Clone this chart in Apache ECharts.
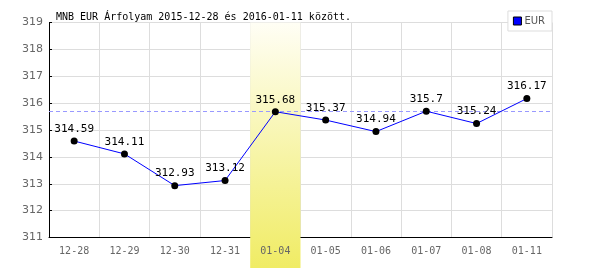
<!DOCTYPE html>
<html><head><meta charset="utf-8">
<script src="https://cdn.jsdelivr.net/npm/echarts@6/dist/echarts.min.js"></script>
<style>html,body{margin:0;padding:0;background:#fff}#c{width:600px;height:270px}</style>
</head><body><div id="c"></div>
<script>
const categories = ['12-28','12-29','12-30','12-31','01-04','01-05','01-06','01-07','01-08','01-11'];
const eurValues = [314.59,314.11,312.93,313.12,315.68,315.37,314.94,315.70,315.24,316.17];
const highlight = [null,null,null,null,1,null,null,null,null,null];
const refLine = 315.68;
const titleText = 'MNB EUR Árfolyam 2015-12-28 és 2016-01-11 között.';

const chart = echarts.init(document.getElementById('c'), null, {renderer:'canvas'});
const mono = 'DejaVu Sans Mono';
chart.setOption({
  animation:false,
  backgroundColor:'#fff',
  title:{text:titleText,left:51,top:7,textStyle:{fontFamily:mono,fontSize:10,fontWeight:'normal',color:'#000'}},
  legend:{data:[{name:'EUR',icon:'rect',itemStyle:{color:'#0000ff',borderColor:'#000',borderWidth:1}}],right:48,top:11,itemWidth:8,itemHeight:8,itemGap:4,
    padding:[5,7,5,5],borderColor:'#ddd',borderWidth:1,backgroundColor:'#fff',
    textStyle:{fontFamily:'DejaVu Sans',fontSize:10,color:'#555',padding:[0,0,0,-2]}},
  grid:[{left:49,right:48,top:22.5,bottom:32.5},{left:49,right:48,top:22.5,bottom:2}],
  xAxis:[{type:'category',data:categories,gridIndex:0,boundaryGap:true,
    axisLine:{lineStyle:{color:'#000',width:1}},axisTick:{show:false},
    axisLabel:{fontFamily:mono,fontSize:10,color:'#666',margin:9},
    splitLine:{show:true,lineStyle:{color:'#ddd',width:1}}},
    {type:'category',data:categories,gridIndex:1,show:false,boundaryGap:true}],
  yAxis:[{type:'value',min:311,max:319,interval:1,gridIndex:0,
    axisLine:{show:true,lineStyle:{color:'#000',width:1}},axisTick:{show:true,inside:true,length:3,lineStyle:{color:'#000'}},
    axisLabel:{fontFamily:'DejaVu Sans',fontSize:11,color:'#666',margin:6},
    splitLine:{show:true,lineStyle:{color:'#ddd',width:1}}},
    {type:'value',min:0,max:1,gridIndex:1,show:false}],
  series:[
    {type:'bar',xAxisIndex:1,yAxisIndex:1,data:highlight,barWidth:'100%',silent:true,z:0,
     itemStyle:{color:new echarts.graphic.LinearGradient(0,0,0,1,[{offset:0,color:'#fffef5'},{offset:1,color:'#f0ec64'}])}},
    {name:'EUR',type:'line',data:eurValues,z:5,
     lineStyle:{color:'#0000ff',width:1},itemStyle:{color:'#000'},
     symbol:'circle',symbolSize:7,
     label:{show:true,position:'top',distance:3,fontFamily:mono,fontSize:11,color:'#000',formatter:p=>p.value.toFixed(2).replace(/0$/,'')},
     markLine:{silent:true,symbol:'none',label:{show:false},lineStyle:{color:'#9999ff',type:[4,3],width:1},data:[{yAxis:refLine}]}
    }
  ]
});
</script></body></html>
